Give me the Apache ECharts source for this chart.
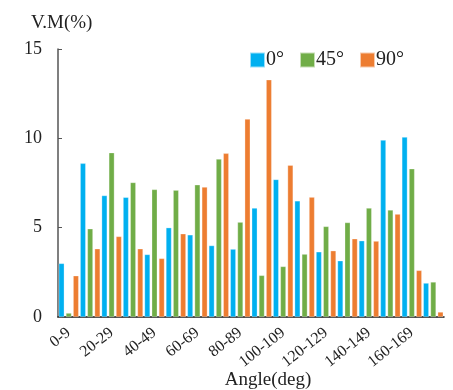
<!DOCTYPE html>
<html>
<head>
<meta charset="utf-8">
<script src="https://cdn.jsdelivr.net/npm/echarts@6/dist/echarts.min.js"></script>
<style>html,body{margin:0;padding:0;background:#fff}#c{width:453px;height:390px}</style>
</head>
<body>
<div id="c"></div>
<script>
const categories = ['0-9','10-19','20-29','30-39','40-49','50-59','60-69','70-79','80-89','90-99','100-109','110-119','120-129','130-139','140-149','150-159','160-169','170-179'];
const seriesNames = ['0°','45°','90°'];
const values0 = [3.0, 8.6, 6.8, 6.7, 3.5, 5.0, 4.6, 4.0, 3.8, 6.1, 7.7, 6.5, 3.65, 3.15, 4.27, 9.9, 10.07, 1.9];
const values45 = [0.22, 4.94, 9.2, 7.53, 7.14, 7.1, 7.4, 8.84, 5.31, 2.33, 2.83, 3.52, 5.07, 5.29, 6.1, 5.99, 8.3, 1.96];
const values90 = [2.31, 3.82, 4.51, 3.82, 3.28, 4.66, 7.27, 9.16, 11.08, 13.28, 8.5, 6.71, 3.71, 4.38, 4.25, 5.76, 2.61, 0.28];
const yTicks = [0, 5, 10, 15];
const colors = ['#00B0F0', '#70AD47', '#ED7D31'];
const font = '"Liberation Serif", "Times New Roman", serif';

const chart = echarts.init(document.getElementById('c'));
const mk = (name, data, color) => ({
  name, type: 'bar', data,
  barGap: '30%', barCategoryGap: '7%',
  itemStyle: {color, borderColor: 'rgba(255,255,255,0.6)', borderWidth: 0.5}
});
chart.setOption({
  animation: false,
  textStyle: {fontFamily: font},
  legend: {
    data: seriesNames,
    left: 244, top: 45,
    itemWidth: 15, itemHeight: 15, itemGap: 15,
    icon: 'rect',
    textStyle: {fontFamily: font, fontSize: 20, color: '#222', padding: [0,0,0,-4]}
  },
  grid: {left: 58, right: 9, top: 49, bottom: 73, containLabel: false, outerBoundsMode: 'none'},
  xAxis: {
    type: 'category', data: categories,
    name: 'Angle(deg)', nameLocation: 'middle', nameGap: 54, nameMoveOverlap: false,
    nameTextStyle: {fontFamily: font, fontSize: 19, color: '#222', padding: [0,0,0,34]},
    axisLine: {lineStyle: {color: '#111', width: 1.5}},
    axisTick: {show: false},
    axisLabel: {interval: 1, rotate: 38, fontFamily: font, fontSize: 16, color: '#222', margin: 14}
  },
  yAxis: {
    type: 'value', min: yTicks[0], max: yTicks[yTicks.length-1], interval: 5,
    name: 'V.M(%)', nameLocation: 'end', nameGap: 16,
    nameTextStyle: {fontFamily: font, fontSize: 19, color: '#222', align: 'left', padding: [0,0,0,-27]},
    axisLine: {show: true, lineStyle: {color: '#555', width: 1.5}},
    axisTick: {show: true, inside: true, length: 4, lineStyle: {color: '#555'}},
    splitLine: {show: false},
    axisLabel: {fontFamily: font, fontSize: 18, color: '#222', margin: 16}
  },
  series: [mk(seriesNames[0], values0, colors[0]), mk(seriesNames[1], values45, colors[1]), mk(seriesNames[2], values90, colors[2])]
});
</script>
</body>
</html>
